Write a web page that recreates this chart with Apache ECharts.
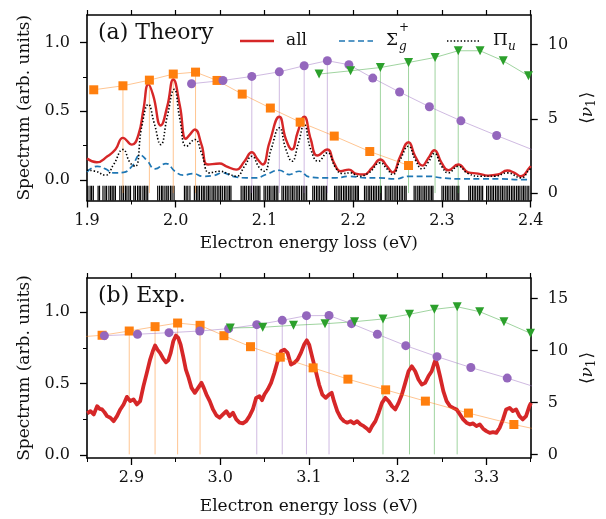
<!DOCTYPE html>
<html>
<head>
<meta charset="utf-8">
<script src="https://cdn.jsdelivr.net/npm/echarts@6/dist/echarts.min.js"></script>
<style>
html, body { margin: 0; padding: 0; background: #fff; }
#chart { width: 606px; height: 519px; }
</style>
</head>
<body>
<div id="chart"></div>
<script>
// ---------- (a) Theory: spectra [energy eV, intensity arb. units] ----------
const allTheory = [[1.900,0.155],[1.911,0.128],[1.923,0.172],[1.932,0.221],[1.9405,0.306],[1.9506,0.257],[1.958,0.33],[1.9636,0.513],[1.9692,0.695],[1.9748,0.61],[1.9831,0.396],[1.9905,0.537],[1.9972,0.731],[2.0047,0.537],[2.0114,0.299],[2.0159,0.33],[2.0215,0.367],[2.029,0.257],[2.0364,0.112],[2.0495,0.119],[2.057,0.099],[2.0682,0.075],[2.0775,0.136],[2.0857,0.201],[2.0924,0.148],[2.098,0.112],[2.1055,0.27],[2.1167,0.46],[2.1242,0.294],[2.1309,0.221],[2.1372,0.343],[2.1447,0.46],[2.1522,0.294],[2.1596,0.177],[2.1708,0.221],[2.1783,0.124],[2.1858,0.063],[2.1951,0.075],[2.2026,0.046],[2.2119,0.039],[2.2212,0.088],[2.2306,0.148],[2.238,0.099],[2.2443,0.055],[2.253,0.172],[2.2623,0.274],[2.2698,0.172],[2.2779,0.104],[2.2847,0.16],[2.2914,0.216],[2.2996,0.124],[2.3071,0.07],[2.3183,0.112],[2.3295,0.055],[2.3407,0.046],[2.3519,0.031],[2.3631,0.039],[2.3735,0.068],[2.3817,0.051],[2.3891,0.026],[2.3985,0.088],[2.4,0.1]];

const sigmaTheory = [[1.900,0.058],[1.9114,0.099],[1.9207,0.08],[1.930,0.051],[1.9412,0.055],[1.9506,0.099],[1.9599,0.18],[1.9674,0.143],[1.9767,0.08],[1.989,0.119],[1.9991,0.063],[2.0084,0.034],[2.0196,0.046],[2.0308,0.026],[2.042,0.031],[2.0532,0.051],[2.0644,0.026],[2.0794,0.015],[2.0906,0.015],[2.1018,0.039],[2.1167,0.07],[2.1279,0.039],[2.1391,0.063],[2.1503,0.022],[2.1652,0.015],[2.1802,0.015],[2.1951,0.026],[2.2138,0.015],[2.2287,0.015],[2.2474,0.007],[2.2623,0.026],[2.2847,0.026],[2.2996,0.015],[2.322,0.007],[2.3444,0.007],[2.3667,0.007],[2.3891,0.002],[2.4,0.002]];

const piTheory = [[1.900,0.07],[1.9095,0.063],[1.9207,0.034],[1.930,0.112],[1.9405,0.221],[1.9487,0.124],[1.9543,0.099],[1.9618,0.391],[1.9692,0.549],[1.9756,0.416],[1.9831,0.257],[1.9905,0.464],[1.9983,0.659],[2.0047,0.44],[2.0122,0.245],[2.0215,0.294],[2.029,0.197],[2.0383,0.051],[2.0495,0.063],[2.0588,0.046],[2.0682,0.026],[2.0775,0.099],[2.0857,0.172],[2.0943,0.088],[2.0999,0.063],[2.1074,0.221],[2.1167,0.379],[2.1242,0.221],[2.1309,0.136],[2.1383,0.27],[2.1447,0.403],[2.1522,0.221],[2.1607,0.136],[2.1708,0.197],[2.1802,0.088],[2.1876,0.046],[2.197,0.051],[2.2063,0.026],[2.2175,0.051],[2.2306,0.124],[2.238,0.08],[2.2443,0.039],[2.253,0.148],[2.2623,0.245],[2.2698,0.148],[2.2779,0.08],[2.2847,0.13],[2.2914,0.192],[2.2996,0.099],[2.3071,0.051],[2.3183,0.099],[2.3295,0.046],[2.3444,0.026],[2.3593,0.026],[2.3735,0.051],[2.3891,0.015],[2.3985,0.075],[2.4,0.08]];

// vibronic transition energies (eV), drawn as a stick spectrum
const stickEnergies = [1.9010,1.9035,1.9052,1.9071,1.9125,1.9141,1.9180,1.9203,1.9221,1.9247,1.9266,1.9284,1.9302,1.9320,1.9370,1.9392,1.9411,1.9433,1.9450,1.9472,1.9490,1.9528,1.9546,1.9570,1.9588,1.9605,1.9630,1.9648,1.9666,1.9684,1.9797,1.9818,1.9840,1.9855,1.9878,1.9899,1.9916,1.9940,1.9958,1.9981,2.0098,2.0117,2.0136,2.0160,2.0210,2.0232,2.0250,2.0268,2.0291,2.0310,2.0327,2.0350,2.0368,2.0386,2.0409,2.0428,2.0445,2.0467,2.0486,2.0505,2.0525,2.0548,2.0566,2.0588,2.0606,2.0622,2.0737,2.0758,2.0776,2.0795,2.0818,2.0836,2.0854,2.0877,2.0895,2.0915,2.0930,2.0948,2.0995,2.1014,2.1036,2.1055,2.1073,2.1096,2.1113,2.1132,2.1150,2.1197,2.1216,2.1238,2.1256,2.1275,2.1297,2.1316,2.1334,2.1357,2.1376,2.1394,2.1417,2.1436,2.1455,2.1475,2.1544,2.1563,2.1585,2.1603,2.1622,2.1644,2.1663,2.1681,2.1700,2.1790,2.1808,2.1830,2.1849,2.1867,2.1890,2.1908,2.1926,2.1948,2.1966,2.1985,2.2007,2.2026,2.2044,2.2058,2.2127,2.2146,2.2168,2.2186,2.2205,2.2227,2.2245,2.2264,2.2286,2.2304,2.2316,2.2361,2.2380,2.2402,2.2420,2.2439,2.2461,2.2480,2.2498,2.2520,2.2539,2.2557,2.2580,2.2596,2.2686,2.2705,2.2727,2.2745,2.2764,2.2786,2.2805,2.2823,2.2845,2.2864,2.2883,2.2898,2.3000,2.3019,2.3041,2.3060,2.3078,2.3100,2.3119,2.3138,2.3160,2.3178,2.3190,2.3302,2.3321,2.3343,2.3362,2.3380,2.3402,2.3421,2.3440,2.3458,2.3503,2.3522,2.3544,2.3563,2.3581,2.3603,2.3622,2.3640,2.3662,2.3681,2.3700,2.3722,2.3741,2.3760,2.3782,2.3800,2.3819,2.3841,2.3860,2.3878,2.3900,2.3919,2.3937,2.3959,2.3978];

// mean vibrational quantum number <nu_1> of the three progressions [energy eV, <nu_1>]
const nuOrangeTheory = [[1.9076,6.96],[1.9405,7.23],[1.9703,7.61],[1.9972,8.02],[2.0223,8.15],[2.0465,7.59],[2.0749,6.67],[2.1066,5.73],[2.1402,4.78],[2.1786,3.84],[2.2186,2.80],[2.2623,1.86]];
const nuPurpleTheory = [[2.0178,7.37],[2.0532,7.59],[2.0857,7.86],[2.1167,8.17],[2.1447,8.58],[2.1708,8.92],[2.1951,8.65],[2.2220,7.75],[2.2522,6.81],[2.2858,5.82],[2.3213,4.87],[2.3616,3.88],[2.4050,2.85]];
const nuGreenTheory = [[2.1615,8.02],[2.1970,8.24],[2.2306,8.46],[2.2623,8.80],[2.2922,9.14],[2.3183,9.59],[2.3429,9.59],[2.3690,8.91],[2.3974,7.90]];
// indices of the states marked with a drop line
const stemOrangeTheory = [1,2,3,4];
const stemPurpleTheory = [2,3,4,5];
const stemGreenTheory = [2,3,4,5];

// ---------- (b) Experiment ----------
const spectrumExp = [[2.8502,0.292],[2.8539,0.308],[2.8576,0.285],[2.8614,0.343],[2.8643,0.324],[2.867,0.32],[2.8696,0.301],[2.8726,0.273],[2.8763,0.262],[2.88,0.238],[2.8838,0.273],[2.8875,0.32],[2.8912,0.355],[2.895,0.408],[2.8987,0.378],[2.9024,0.39],[2.9062,0.355],[2.9099,0.378],[2.9136,0.483],[2.9174,0.576],[2.9211,0.669],[2.9241,0.727],[2.9267,0.767],[2.9293,0.739],[2.9323,0.716],[2.936,0.674],[2.939,0.65],[2.9416,0.664],[2.9443,0.716],[2.9472,0.797],[2.9502,0.837],[2.9528,0.821],[2.9555,0.774],[2.9584,0.692],[2.9614,0.599],[2.964,0.552],[2.9678,0.471],[2.9715,0.436],[2.9752,0.471],[2.979,0.506],[2.9816,0.471],[2.9846,0.424],[2.9883,0.378],[2.992,0.32],[2.9958,0.278],[2.9995,0.262],[3.0032,0.285],[3.007,0.308],[3.0107,0.273],[3.0144,0.297],[3.0182,0.25],[3.0219,0.227],[3.0256,0.222],[3.0294,0.238],[3.0331,0.273],[3.0368,0.32],[3.0406,0.401],[3.0443,0.413],[3.0473,0.385],[3.0499,0.424],[3.0536,0.459],[3.0574,0.506],[3.0611,0.576],[3.0648,0.657],[3.0686,0.727],[3.0723,0.739],[3.076,0.716],[3.0798,0.634],[3.0835,0.646],[3.0872,0.669],[3.091,0.716],[3.0947,0.774],[3.0977,0.804],[3.1003,0.774],[3.104,0.681],[3.1078,0.587],[3.1115,0.494],[3.1152,0.424],[3.119,0.401],[3.1227,0.424],[3.1257,0.436],[3.1283,0.378],[3.132,0.308],[3.1358,0.262],[3.1395,0.238],[3.1432,0.227],[3.147,0.238],[3.1507,0.222],[3.1544,0.238],[3.1582,0.215],[3.1619,0.203],[3.1656,0.185],[3.1683,0.168],[3.1712,0.203],[3.175,0.238],[3.1787,0.297],[3.1824,0.366],[3.1862,0.401],[3.1899,0.378],[3.1936,0.343],[3.1974,0.32],[3.2011,0.366],[3.2048,0.424],[3.2086,0.506],[3.2123,0.587],[3.216,0.622],[3.2198,0.587],[3.2235,0.529],[3.2272,0.494],[3.231,0.506],[3.2347,0.552],[3.2384,0.587],[3.2414,0.646],[3.2428,0.669],[3.2451,0.622],[3.2478,0.552],[3.2515,0.448],[3.2552,0.378],[3.259,0.343],[3.2627,0.331],[3.2664,0.32],[3.2702,0.285],[3.2739,0.25],[3.2776,0.227],[3.2814,0.215],[3.2851,0.222],[3.2888,0.203],[3.2926,0.215],[3.2963,0.185],[3.3,0.168],[3.3038,0.156],[3.3075,0.161],[3.3112,0.156],[3.315,0.192],[3.3187,0.25],[3.3223,0.32],[3.3262,0.331],[3.3298,0.308],[3.3335,0.32],[3.3373,0.273],[3.341,0.25],[3.3447,0.273],[3.3485,0.343],[3.3503,0.366]];

const nuOrangeExp = [[2.838,11.30],[2.8670,11.48],[2.8976,11.89],[2.9267,12.31],[2.9521,12.66],[2.9774,12.44],[3.0043,11.44],[3.0342,10.38],[3.0678,9.37],[3.1048,8.34],[3.1440,7.25],[3.1865,6.22],[3.2313,5.13],[3.2798,3.98],[3.3310,2.88],[3.3780,2.02]];
const nuPurpleExp = [[2.8696,11.44],[2.9069,11.58],[2.9424,11.73],[2.9771,11.89],[3.0096,12.12],[3.0413,12.50],[3.0700,12.92],[3.0973,13.37],[3.1227,13.38],[3.1481,12.60],[3.1772,11.58],[3.2092,10.48],[3.2444,9.42],[3.2825,8.37],[3.3235,7.35],[3.3640,6.25]];
const nuGreenExp = [[3.0115,12.18],[3.0480,12.25],[3.0827,12.44],[3.1182,12.59],[3.1515,12.79],[3.1835,13.05],[3.2134,13.50],[3.2414,13.98],[3.2671,14.23],[3.2925,13.75],[3.3198,12.79],[3.3497,11.67]];
const stemOrangeExp = [2,3,4,5];
const stemPurpleExp = [5,6,7,8];
const stemGreenExp = [5,6,7,8];

// ---------- tick positions ----------
const ticksTheoryX = [1.9, 2.0, 2.1, 2.2, 2.3, 2.4];
const minorTheoryX = [1.95, 2.05, 2.15, 2.25, 2.35];
const ticksExpX = [2.9, 3.0, 3.1, 3.2, 3.3];
const minorExpX = [2.85, 2.95, 3.05, 3.15, 3.25, 3.35];
const ticksSpectrum = [0.0, 0.5, 1.0];
const minorSpectrum = [0.25, 0.75];
const ticksNuTheory = [0, 5, 10];
const ticksNuExp = [0, 5, 10, 15];

// ---------- styling ----------
const FONT = '"DejaVu Serif", serif';
const INK = '#111';
const RED = '#d62728', BLUE = '#1f77b4', ORANGE = '#ff7f0e', PURPLE = '#9467bd', GREEN = '#2ca02c';
const FRAME = { color: '#000', width: 1.6 };
const STICK_TOP = -0.042;   // stick band sits below zero on the spectrum axis
const STICK_BASE = -0.15;

function xAxesFor(grid, min, max, majors, minors, titleGap) {
  const fine = majors.concat(minors);
  return [
    { type: 'value', gridIndex: grid, min, max, position: 'bottom',
      axisLine: { show: true, onZero: false, lineStyle: FRAME },
      axisTick: { show: true, customValues: majors, length: 7, lineStyle: { color: '#000', width: 1.3 } },
      axisLabel: { customValues: majors, formatter: v => v.toFixed(1), margin: 12, color: INK, fontFamily: FONT, fontSize: 16 },
      splitLine: { show: false },
      name: 'Electron energy loss (eV)', nameLocation: 'middle', nameGap: titleGap,
      nameTextStyle: { color: INK, fontFamily: FONT, fontSize: 17 } },
    { type: 'value', gridIndex: grid, min, max, position: 'bottom',
      axisLine: { show: false, onZero: false },
      axisTick: { show: true, customValues: minors, length: 4, lineStyle: { color: '#000', width: 1 } },
      axisLabel: { show: false }, splitLine: { show: false } },
    { type: 'value', gridIndex: grid, min, max, position: 'top',
      axisLine: { show: true, onZero: false, lineStyle: FRAME },
      axisTick: { show: true, customValues: fine, length: 5, lineStyle: { color: '#000', width: 1.2 } },
      axisLabel: { show: false }, splitLine: { show: false } }
  ];
}

function yAxesFor(grid, min, max, rmin, rmax, rmajors) {
  return [
    { type: 'value', gridIndex: grid, min, max, position: 'left',
      axisLine: { show: true, onZero: false, lineStyle: FRAME },
      axisTick: { show: true, customValues: ticksSpectrum, length: 7, lineStyle: { color: '#000', width: 1.3 } },
      axisLabel: { customValues: ticksSpectrum, formatter: v => v.toFixed(1), margin: 17, color: INK, fontFamily: FONT, fontSize: 16 },
      splitLine: { show: false },
      name: 'Spectrum (arb. units)', nameLocation: 'middle', nameRotate: 90, nameGap: 54,
      nameTextStyle: { color: INK, fontFamily: FONT, fontSize: 17 } },
    { type: 'value', gridIndex: grid, min, max, position: 'left',
      axisLine: { show: false, onZero: false },
      axisTick: { show: true, customValues: minorSpectrum, length: 4, lineStyle: { color: '#000', width: 1 } },
      axisLabel: { show: false }, splitLine: { show: false } },
    { type: 'value', gridIndex: grid, min: rmin, max: rmax, position: 'right',
      axisLine: { show: true, onZero: false, lineStyle: FRAME },
      axisTick: { show: true, customValues: rmajors, length: 7, lineStyle: { color: '#000', width: 1.3 } },
      axisLabel: { customValues: rmajors, formatter: v => String(v), margin: 17, color: INK, fontFamily: FONT, fontSize: 16 },
      splitLine: { show: false },
      name: '⟨{nu|ν}{sub|1}⟩', nameLocation: 'middle', nameRotate: 90, nameGap: 45,
      nameTextStyle: { color: INK, fontFamily: FONT, fontSize: 17,
        rich: { nu: { fontFamily: FONT, fontSize: 17, fontStyle: 'italic', color: INK },
                sub: { fontFamily: FONT, fontSize: 12, color: INK, verticalAlign: 'top', padding: [9, 1, 0, 0] } } } }
  ];
}

function spectrumLine(name, data, color, width, dash, xi, yi, smooth, z) {
  return { type: 'line', name, data, xAxisIndex: xi, yAxisIndex: yi, symbol: 'none',
    smooth: smooth, z: z, silent: true,
    lineStyle: { color, width, type: dash, join: 'round', cap: 'butt' } };
}

function nuLine(data, color, symbol, rotate, xi, yi) {
  return { type: 'line', data, xAxisIndex: xi, yAxisIndex: yi, symbol, symbolSize: 9,
    symbolRotate: rotate, showAllSymbol: true, clip: true, z: 6, silent: true,
    itemStyle: { color, opacity: 1 }, lineStyle: { color, width: 1, opacity: 0.45 } };
}

function stemSeries(points, idx, color, xi, yi) {
  return { type: 'custom', xAxisIndex: xi, yAxisIndex: yi, z: 1, silent: true,
    data: idx.map(i => points[i]),
    renderItem: (params, api) => {
      const top = api.coord([api.value(0), api.value(1)]);
      const base = api.coord([api.value(0), 0]);
      return { type: 'line', shape: { x1: top[0], y1: top[1], x2: base[0], y2: base[1] },
               style: { stroke: color, lineWidth: 1, opacity: 0.45 } };
    } };
}

const stickSeries = { type: 'custom', xAxisIndex: 0, yAxisIndex: 0, z: 1, silent: true,
  data: stickEnergies.map(e => [e, STICK_TOP]),
  renderItem: (params, api) => {
    const top = api.coord([api.value(0), STICK_TOP]);
    const base = api.coord([api.value(0), STICK_BASE]);
    return { type: 'line', shape: { x1: top[0], y1: top[1], x2: base[0], y2: base[1] },
             style: { stroke: '#000', lineWidth: 1.2 } };
  } };

const chart = echarts.init(document.getElementById('chart'), null, { renderer: 'canvas' });

const legendFont = '17px "DejaVu Serif"';
const smallItalic = 'italic 12px "DejaVu Serif"';

chart.setOption({
  animation: false,
  backgroundColor: '#fff',
  grid: [
    { left: 87, top: 15, width: 446, height: 185.5 },
    { left: 87, top: 278, width: 446, height: 180 }
  ],
  xAxis: xAxesFor(0, 1.9, 2.4, ticksTheoryX, minorTheoryX, 35)
    .concat(xAxesFor(1, 2.85, 3.35, ticksExpX, minorExpX, 40)),
  yAxis: yAxesFor(0, -0.15, 1.2, -0.5, 12, ticksNuTheory)
    .concat(yAxesFor(1, -0.02, 1.24, -0.35, 17, ticksNuExp)),
  series: [
    // (a) theory
    stickSeries,
    stemSeries(nuOrangeTheory, stemOrangeTheory, ORANGE, 0, 2),
    stemSeries(nuPurpleTheory, stemPurpleTheory, PURPLE, 0, 2),
    stemSeries(nuGreenTheory, stemGreenTheory, GREEN, 0, 2),
    spectrumLine('all', allTheory, RED, 2.4, 'solid', 0, 0, 0.5, 3),
    spectrumLine('Σg+', sigmaTheory, BLUE, 1.7, [6, 3.5], 0, 0, 0.5, 4),
    spectrumLine('Πu', piTheory, '#000', 1.6, [1.4, 2], 0, 0, 0.5, 4),
    nuLine(nuOrangeTheory, ORANGE, 'rect', 0, 0, 2),
    nuLine(nuPurpleTheory, PURPLE, 'circle', 0, 0, 2),
    nuLine(nuGreenTheory, GREEN, 'triangle', 180, 0, 2),
    // (b) experiment
    stemSeries(nuOrangeExp, stemOrangeExp, ORANGE, 3, 5),
    stemSeries(nuPurpleExp, stemPurpleExp, PURPLE, 3, 5),
    stemSeries(nuGreenExp, stemGreenExp, GREEN, 3, 5),
    spectrumLine('exp', spectrumExp, RED, 3.8, 'solid', 3, 3, false, 3),
    nuLine(nuOrangeExp, ORANGE, 'rect', 0, 3, 5),
    nuLine(nuPurpleExp, PURPLE, 'circle', 0, 3, 5),
    nuLine(nuGreenExp, GREEN, 'triangle', 180, 3, 5)
  ],
  graphic: [
    { type: 'text', z: 10, style: { text: '(a) Theory', x: 98, y: 22, font: '22px "DejaVu Serif"', fill: INK, verticalAlign: 'top' } },
    { type: 'text', z: 10, style: { text: '(b) Exp.', x: 98, y: 285, font: '22px "DejaVu Serif"', fill: INK, verticalAlign: 'top' } },
    // legend
    { type: 'line', z: 10, shape: { x1: 240, y1: 41, x2: 274, y2: 41 }, style: { stroke: RED, lineWidth: 2.4 } },
    { type: 'text', z: 10, style: { text: 'all', x: 286, y: 41, font: legendFont, fill: INK, verticalAlign: 'middle' } },
    { type: 'line', z: 10, shape: { x1: 339, y1: 41, x2: 373, y2: 41 }, style: { stroke: BLUE, lineWidth: 1.7, lineDash: [6, 3.5] } },
    { type: 'text', z: 10, style: { text: 'Σ', x: 386, y: 41, font: legendFont, fill: INK, verticalAlign: 'middle' } },
    { type: 'text', z: 10, style: { text: '+', x: 399, y: 28, font: '12px "DejaVu Serif"', fill: INK, verticalAlign: 'middle' } },
    { type: 'text', z: 10, style: { text: 'g', x: 399, y: 47, font: smallItalic, fill: INK, verticalAlign: 'middle' } },
    { type: 'line', z: 10, shape: { x1: 447, y1: 41, x2: 481, y2: 41 }, style: { stroke: '#000', lineWidth: 1.6, lineDash: [1.4, 2] } },
    { type: 'text', z: 10, style: { text: 'Π', x: 493, y: 41, font: legendFont, fill: INK, verticalAlign: 'middle' } },
    { type: 'text', z: 10, style: { text: 'u', x: 508, y: 47, font: smallItalic, fill: INK, verticalAlign: 'middle' } }
  ]
});
</script>
</body>
</html>
